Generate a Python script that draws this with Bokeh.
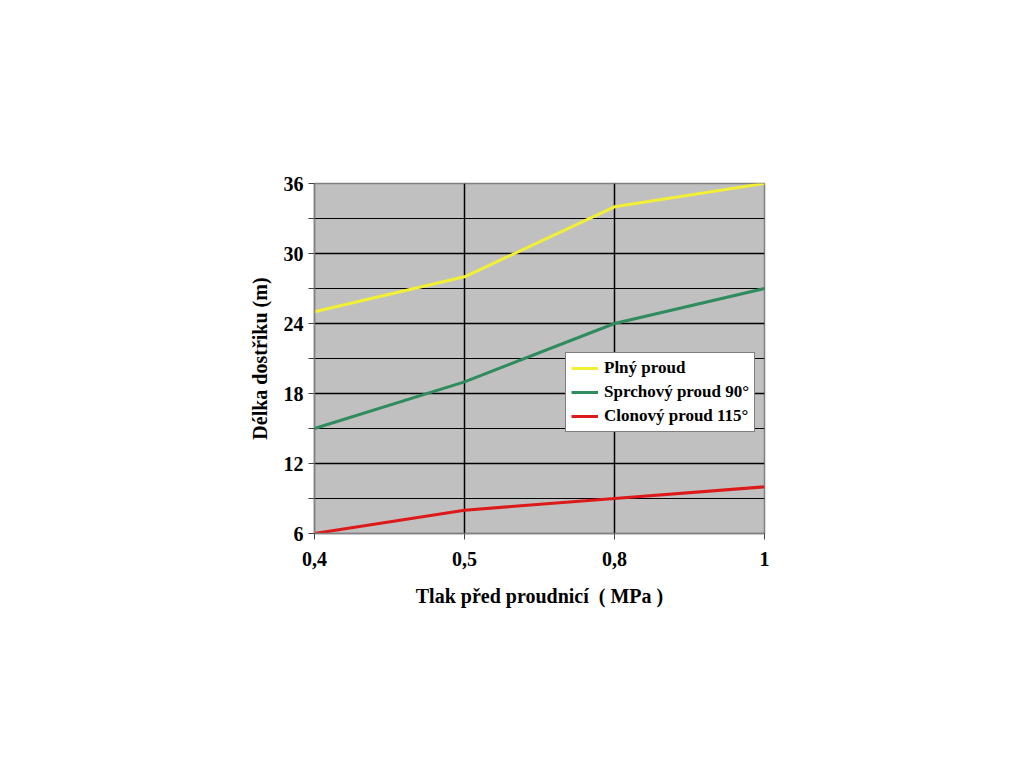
from bokeh.plotting import figure
from bokeh.models import FixedTicker, Legend, LegendItem, Range1d
from bokeh.embed import file_html
from bokeh.resources import INLINE

categories = ["0,4", "0,5", "0,8", "1"]
plny = [25, 28, 34, 36]
sprchovy = [15, 19, 24, 27]
clonovy = [6, 8, 9, 10]
series_names = ["Plný proud", "Sprchový proud 90°", "Clonový proud 115°"]
y_major = [6, 12, 18, 24, 30, 36]
y_minor = [9, 15, 21, 27, 33]

xs = list(range(len(categories)))
FONT = "Liberation Serif"

p = figure(width=1000, height=750, output_backend="svg", toolbar_location=None,
           x_range=Range1d(0, 3), y_range=Range1d(6, 36),
           min_border_left=314, min_border_right=236, min_border_top=183, min_border_bottom=217)
p.background_fill_color = "#C0C0C0"
p.border_fill_color = "white"
p.outline_line_color = "#808080"
p.outline_line_width = 1.5

p.xaxis.ticker = FixedTicker(ticks=xs)
p.xaxis.major_label_overrides = {i: c for i, c in enumerate(categories)}
p.yaxis.ticker = FixedTicker(ticks=y_major, minor_ticks=y_minor)

for ax in (p.xaxis, p.yaxis):
    ax.axis_line_color = "#808080"
    ax.axis_line_width = 1.5
    ax.major_tick_line_color = "#404040"
    ax.major_tick_in = 0
    ax.major_tick_out = 6
    ax.major_label_text_font = FONT
    ax.major_label_text_font_style = "bold"
    ax.major_label_text_font_size = "20px"
    ax.major_label_text_color = "black"
    ax.axis_label_text_font = FONT
    ax.axis_label_text_font_style = "bold"
    ax.axis_label_text_font_size = "20px"
    ax.axis_label_text_color = "black"
p.xaxis.minor_tick_line_color = None
p.yaxis.minor_tick_line_color = "#404040"
p.yaxis.minor_tick_in = 0
p.yaxis.minor_tick_out = 6
p.xaxis.major_label_standoff = 12
p.yaxis.major_label_standoff = 5
p.xaxis.axis_label = "Tlak před proudnicí\u00a0 ( MPa )"
p.yaxis.axis_label = "Délka dostřiku (m)"
p.xaxis.axis_label_standoff = 16
p.yaxis.axis_label_standoff = 10

p.xgrid.ticker = FixedTicker(ticks=xs)
p.xgrid.grid_line_color = "black"
p.xgrid.grid_line_width = 1.5
p.ygrid.ticker = FixedTicker(ticks=y_major, minor_ticks=y_minor)
p.ygrid.grid_line_color = "black"
p.ygrid.grid_line_width = 1.5
p.ygrid.minor_grid_line_color = "black"
p.ygrid.minor_grid_line_width = 1.2

colors = ["#F2F035", "#2F8C5E", "#DD1A1A"]
renderers = []
for vals, col in zip([plny, sprchovy, clonovy], colors):
    r = p.line(xs, vals, line_color=col, line_width=3)
    renderers.append(r)

legend = Legend(items=[LegendItem(label=n, renderers=[r]) for n, r in zip(series_names, renderers)],
                location=(251, 101))
legend.label_text_font = FONT
legend.label_text_font_style = "bold"
legend.label_text_font_size = "17px"
legend.label_text_color = "black"
legend.background_fill_color = "white"
legend.background_fill_alpha = 1
legend.border_line_color = "black"
legend.border_line_width = 1
legend.glyph_width = 27
legend.glyph_height = 20
legend.label_height = 20
legend.spacing = 4
legend.padding = 5
legend.margin = 0
legend.label_standoff = 6
p.add_layout(legend, "center")

open("out.html", "w").write(file_html(p, INLINE))
